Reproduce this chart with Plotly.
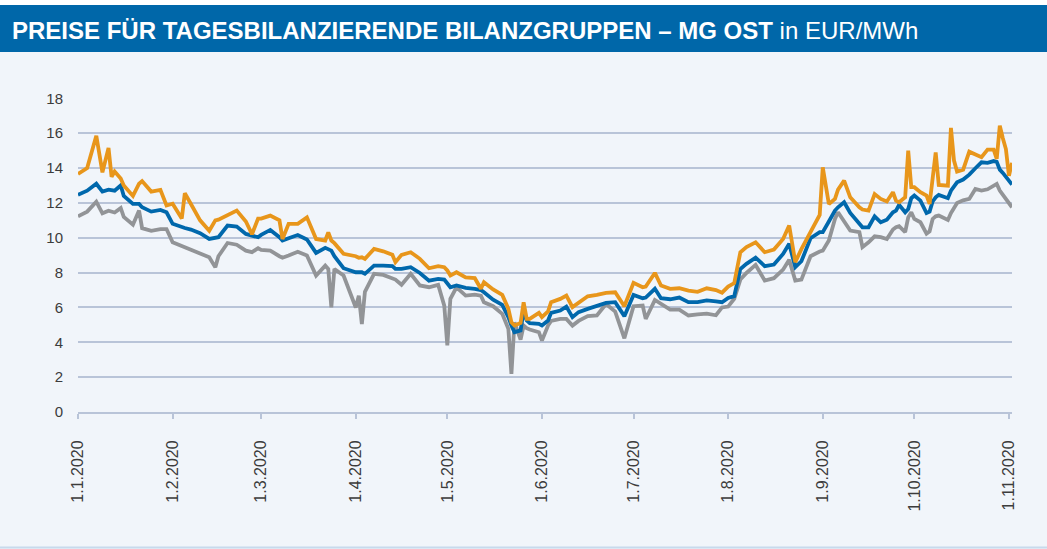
import plotly.graph_objects as go

# daily prices (EUR/MWh)
dates = [
    "2020-01-01", "2020-01-04", "2020-01-07", "2020-01-09", "2020-01-11", "2020-01-12",
    "2020-01-13", "2020-01-15", "2020-01-16", "2020-01-19", "2020-01-21", "2020-01-22",
    "2020-01-25", "2020-01-28", "2020-01-30",
    "2020-02-01", "2020-02-04", "2020-02-05", "2020-02-07", "2020-02-10", "2020-02-13",
    "2020-02-15", "2020-02-16", "2020-02-19", "2020-02-22", "2020-02-25", "2020-02-27",
    "2020-02-29",
    "2020-03-01", "2020-03-04", "2020-03-07", "2020-03-08", "2020-03-10", "2020-03-13",
    "2020-03-16", "2020-03-19", "2020-03-22", "2020-03-23", "2020-03-24", "2020-03-25",
    "2020-03-28",
    "2020-04-01", "2020-04-02", "2020-04-03", "2020-04-04", "2020-04-07", "2020-04-10",
    "2020-04-13", "2020-04-14", "2020-04-16", "2020-04-19", "2020-04-22", "2020-04-25",
    "2020-04-28", "2020-04-30",
    "2020-05-01", "2020-05-02", "2020-05-04", "2020-05-07", "2020-05-10", "2020-05-12",
    "2020-05-13", "2020-05-16", "2020-05-19", "2020-05-21", "2020-05-22", "2020-05-23",
    "2020-05-25", "2020-05-26", "2020-05-27", "2020-05-28", "2020-05-31",
    "2020-06-01", "2020-06-03", "2020-06-04", "2020-06-07", "2020-06-09", "2020-06-11",
    "2020-06-13", "2020-06-16", "2020-06-19", "2020-06-22", "2020-06-25", "2020-06-28",
    "2020-07-01", "2020-07-04", "2020-07-05", "2020-07-08", "2020-07-10", "2020-07-13",
    "2020-07-16", "2020-07-19", "2020-07-22", "2020-07-25", "2020-07-28", "2020-07-30",
    "2020-08-01", "2020-08-03", "2020-08-05", "2020-08-07", "2020-08-10", "2020-08-13",
    "2020-08-16", "2020-08-19", "2020-08-21", "2020-08-23", "2020-08-25", "2020-08-28",
    "2020-08-31",
    "2020-09-01", "2020-09-03", "2020-09-05", "2020-09-06", "2020-09-08", "2020-09-10",
    "2020-09-13", "2020-09-14", "2020-09-16", "2020-09-18", "2020-09-20", "2020-09-22",
    "2020-09-24", "2020-09-25", "2020-09-26", "2020-09-28", "2020-09-29", "2020-09-30",
    "2020-10-01", "2020-10-03", "2020-10-05", "2020-10-06", "2020-10-07", "2020-10-08",
    "2020-10-09", "2020-10-12", "2020-10-13", "2020-10-14", "2020-10-15", "2020-10-17",
    "2020-10-19", "2020-10-21", "2020-10-23", "2020-10-25", "2020-10-27", "2020-10-28",
    "2020-10-29", "2020-10-30", "2020-10-31",
    "2020-11-01", "2020-11-02",
]

orange = [
    13.66, 14.0, 15.85, 13.75, 15.15, 13.5, 13.8, 13.4, 13.0, 12.4, 13.1, 13.25, 12.65, 12.75, 11.85,
    11.95, 11.1, 12.55, 11.94, 11.0, 10.4, 11.0, 11.04, 11.3, 11.56, 10.93, 10.2, 11.1,
    11.1, 11.27, 11.0, 9.93, 10.8, 10.8, 11.17, 9.93, 9.84, 10.3, 9.84, 9.69, 9.08,
    8.94, 8.85, 8.88, 8.79, 9.36, 9.22, 9.02, 8.6, 9.02, 9.17, 8.79, 8.25, 8.37, 8.31,
    8.12, 7.83, 8.02, 7.72, 7.68, 7.07, 7.45, 7.03, 6.72, 5.92, 5.15, 4.96, 5.11, 6.3, 5.34, 5.34, 5.69,
    5.44, 5.77, 6.3, 6.49, 6.68, 6.02, 6.26, 6.64, 6.72, 6.84, 6.87, 6.07,
    7.41, 7.16, 7.2, 7.98, 7.26, 7.07, 7.1, 6.97, 6.9, 7.1, 7.0, 6.85,
    7.2, 7.4, 9.17, 9.46, 9.74, 9.17, 9.32, 9.93, 10.7, 8.6, 9.35, 10.32, 11.31,
    14.04, 11.94, 12.23, 12.76, 13.28, 12.32, 11.75, 11.62, 11.56, 12.51, 12.23, 12.08,
    12.61, 12.13, 12.04, 12.32, 15.0, 12.9,
    12.9, 12.61, 12.42, 11.94, 13.4, 14.9, 13.03, 12.99, 16.3, 14.43, 13.8, 13.91,
    14.94, 14.75, 14.62, 15.06, 15.06, 14.53, 16.43, 15.71, 15.09,
    13.56, 14.3,
]

blue = [
    12.46, 12.7, 13.1, 12.65, 12.76, 12.75, 12.7, 13.0, 12.4, 11.94, 11.94, 11.75, 11.5, 11.6, 11.46,
    10.8, 10.6, 10.56, 10.47, 10.26, 9.93, 10.03, 10.03, 10.7, 10.64, 10.22, 10.12, 10.03,
    10.16, 10.45, 10.03, 9.84, 9.97, 10.16, 9.9, 9.13, 9.42, 9.36, 9.26, 8.94, 8.25,
    8.02, 8.02, 8.02, 7.93, 8.4, 8.4, 8.37, 8.21, 8.21, 8.31, 7.98, 7.54, 7.64, 7.6,
    7.41, 7.16, 7.26, 7.12, 7.07, 7.0, 6.87, 6.45, 6.15, 5.44, 4.96, 4.58, 4.68, 5.82, 5.25, 5.1, 5.06,
    4.96, 5.25, 5.69, 5.82, 6.05, 5.44, 5.73, 5.92, 6.11, 6.26, 6.3, 5.5,
    6.72, 6.53, 6.57, 7.07, 6.53, 6.47, 6.57, 6.3, 6.3, 6.4, 6.35, 6.3,
    6.55, 6.65, 8.21, 8.5, 8.86, 8.37, 8.46, 9.07, 9.65, 8.31, 8.65, 9.97, 10.32,
    10.32, 10.93, 11.56, 11.75, 12.04, 11.42, 10.8, 10.6, 10.6, 11.23, 10.89, 11.04,
    11.46, 11.56, 11.89, 11.46, 11.65, 12.27,
    12.42, 12.13, 11.42, 11.5, 12.08, 12.32, 12.46, 12.27, 12.7, 12.99, 13.18, 13.34,
    13.62, 13.99, 14.33, 14.3, 14.4, 14.36, 13.91, 13.72, 13.47,
    13.3, 13.05,
]

gray = [
    11.23, 11.5, 12.07, 11.4, 11.55, 11.5, 11.45, 11.7, 11.2, 10.75, 11.56, 10.55, 10.4, 10.5, 10.5,
    9.74, 9.51, 9.46, 9.32, 9.1, 8.88, 8.3, 8.94, 9.7, 9.6, 9.26, 9.17, 9.4,
    9.3, 9.26, 8.94, 8.85, 8.98, 9.2, 8.98, 7.83, 8.4, 8.2, 6.0, 8.21, 7.83,
    6.0, 6.68, 5.05, 6.9, 7.93, 7.87, 7.68, 7.6, 7.3, 7.93, 7.26, 7.16, 7.3, 6.1,
    3.82, 6.5, 7.16, 6.68, 6.74, 6.68, 6.3, 6.07, 5.63, 4.77, 2.19, 5.15, 4.16, 4.96, 4.81, 4.73, 4.58,
    4.1, 4.96, 5.23, 5.34, 5.34, 4.96, 5.23, 5.5, 5.54, 6.2, 5.76, 4.23,
    6.07, 6.11, 5.34, 6.43, 6.2, 5.88, 5.88, 5.54, 5.6, 5.65, 5.55, 6.0,
    6.05, 6.5, 7.6, 7.98, 8.44, 7.54, 7.68, 8.17, 8.73, 7.54, 7.6, 8.94, 9.21,
    9.26, 9.84, 11.08, 11.46, 10.96, 10.41, 10.32, 9.46, 9.74, 10.08, 10.03, 9.93,
    10.47, 10.6, 10.66, 10.32, 11.17, 11.46,
    11.08, 10.89, 10.24, 10.37, 11.08, 11.23, 11.27, 11.02, 11.42, 11.75, 12.0, 12.15,
    12.23, 12.8, 12.71, 12.78, 12.96, 13.09, 12.71, 12.46, 12.23,
    12.0, 11.75,
]

month_ticks = ["2020-01-01", "2020-02-01", "2020-03-01", "2020-04-01", "2020-05-01", "2020-06-01",
               "2020-07-01", "2020-08-01", "2020-09-01", "2020-10-01", "2020-11-01"]
month_labels = ["1.1.2020", "1.2.2020", "1.3.2020", "1.4.2020", "1.5.2020", "1.6.2020",
                "1.7.2020", "1.8.2020", "1.9.2020", "1.10.2020", "1.11.2020"]
y_ticks = [0, 2, 4, 6, 8, 10, 12, 14, 16, 18]

W, H = 1047, 549
L, R, T, B = 78, 35, 98, 137
grid = "#B9C4D8"
bg = "#F1F5FA"


def px(x):
    return (x - L) / (W - L - R)


def py(y):
    return (H - B - y) / (H - T - B)


fig = go.Figure()
fig.add_trace(go.Scatter(x=dates, y=gray, mode="lines", line=dict(color="#929497", width=3.8)))
fig.add_trace(go.Scatter(x=dates, y=blue, mode="lines", line=dict(color="#0068AC", width=3.8)))
fig.add_trace(go.Scatter(x=dates, y=orange, mode="lines", line=dict(color="#E8961B", width=3.8)))

fig.update_layout(
    width=W, height=H,
    margin=dict(l=L, r=R, t=T, b=B),
    paper_bgcolor=bg, plot_bgcolor=bg,
    showlegend=False,
    font=dict(family="Liberation Sans, Arial, sans-serif", color="#3C3C3C"),
    shapes=[
        dict(type="rect", xref="paper", yref="paper", x0=px(0), x1=px(W), y0=py(0), y1=py(5),
             fillcolor="white", line_width=0, layer="below"),
        dict(type="rect", xref="paper", yref="paper", x0=px(0), x1=px(W), y0=py(5), y1=py(52),
             fillcolor="#0067A9", line_width=0, layer="below"),
        dict(type="line", xref="paper", yref="paper", x0=px(0), x1=px(W), y0=py(547.5), y1=py(547.5),
             line=dict(color="#C8DAEC", width=2)),
    ],
    annotations=[
        dict(xref="paper", yref="paper", x=px(10), y=py(30), xanchor="left", yanchor="middle",
             showarrow=False,
             text="<b>PREISE FÜR TAGESBILANZIERENDE BILANZGRUPPEN – MG OST</b> in EUR/MWh",
             font=dict(family="Liberation Sans, Arial, sans-serif", size=24, color="white")),
    ],
)

fig.update_xaxes(
    type="date", range=["2020-01-01", "2020-11-02"],
    tickvals=month_ticks, ticktext=month_labels, tickangle=-90,
    ticks="outside", ticklen=5, tickwidth=1.5, tickcolor=grid,
    showline=True, linecolor=grid, linewidth=2,
    showgrid=False, zeroline=False,
    tickfont=dict(size=16, color="#3C3C3C"), ticklabelstandoff=15,
)
fig.update_yaxes(
    range=[0, 18.02], tickvals=y_ticks,
    showgrid=True, gridcolor=grid, gridwidth=1.5,
    zeroline=False, showline=False, ticks="",
    tickfont=dict(size=15, color="#3C3C3C"), ticklabelstandoff=14,
)

fig.write_html("out.html", config={"displayModeBar": False},
               post_script="document.body.style.margin='0';")
